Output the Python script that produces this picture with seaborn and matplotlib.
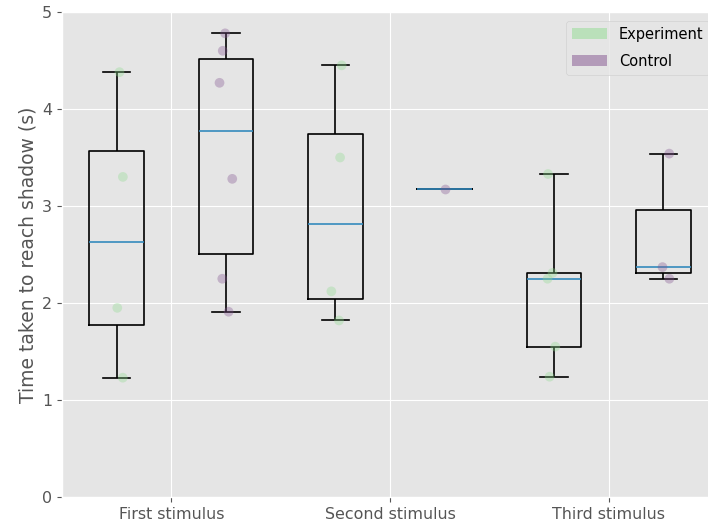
import numpy as np
import pandas as pd
import matplotlib
matplotlib.use("Agg")
import matplotlib.pyplot as plt
from matplotlib.patches import Patch
import seaborn as sns

plt.style.use("ggplot")

# ---- data ----
stimuli = ["First stimulus", "Second stimulus", "Third stimulus"]
groups = ["Experiment", "Control"]
first_experiment = [1.23, 1.95, 3.30, 4.38]
first_control = [1.91, 2.25, 3.28, 4.27, 4.60, 4.78]
second_experiment = [1.82, 2.12, 3.50, 4.45]
second_control = [3.18]
third_experiment = [1.24, 1.55, 2.25, 2.31, 3.33]
third_control = [2.25, 2.37, 3.54]

series = [first_experiment, first_control,
          second_experiment, second_control,
          third_experiment, third_control]

rows = []
for i, vals in enumerate(series):
    for v in vals:
        rows.append({"pos": i + 1, "time": v,
                     "group": groups[i % 2],
                     "stimulus": stimuli[i // 2]})
df = pd.DataFrame(rows)

green = "#90dc90"
purple = "#83538f"
palette = {"Experiment": green, "Control": purple}

fig = plt.figure(figsize=(7.08, 5.28), dpi=100)
ax = fig.add_axes([62 / 708, 31 / 528, 656 / 708, 485 / 528])

sns.boxplot(data=df, x="pos", y="time", native_scale=True, width=0.5,
            fill=False, color="black", linewidth=1.2, showfliers=False,
            medianprops={"color": "#348ABD", "linewidth": 1.2},
            ax=ax)

np.random.seed(4)
sns.stripplot(data=df, x="pos", y="time", hue="group", native_scale=True,
              palette=palette, alpha=0.35, size=7, jitter=0.06,
              linewidth=0, legend=False, zorder=5, ax=ax)

ax.set_xlim(0.5, 6.5)
ax.set_ylim(0, 5)
ax.set_yticks([0, 1, 2, 3, 4, 5])
ax.set_xticks([1.5, 3.5, 5.5])
ax.set_xticklabels(stimuli, fontsize=11.4)
ax.tick_params(axis="y", labelsize=11.4)
ax.set_xlabel("")
ax.set_ylabel("Time taken to reach shadow (s)", fontsize=13.5, labelpad=3)

handles = [Patch(facecolor=green, alpha=0.5, label="Experiment"),
           Patch(facecolor=purple, alpha=0.5, label="Control")]
ax.legend(handles=handles, loc="upper right", fontsize=10.5,
          handlelength=2.4, handleheight=0.8, labelspacing=0.85,
          borderaxespad=0.6)

fig.savefig("out.png", dpi=100)
